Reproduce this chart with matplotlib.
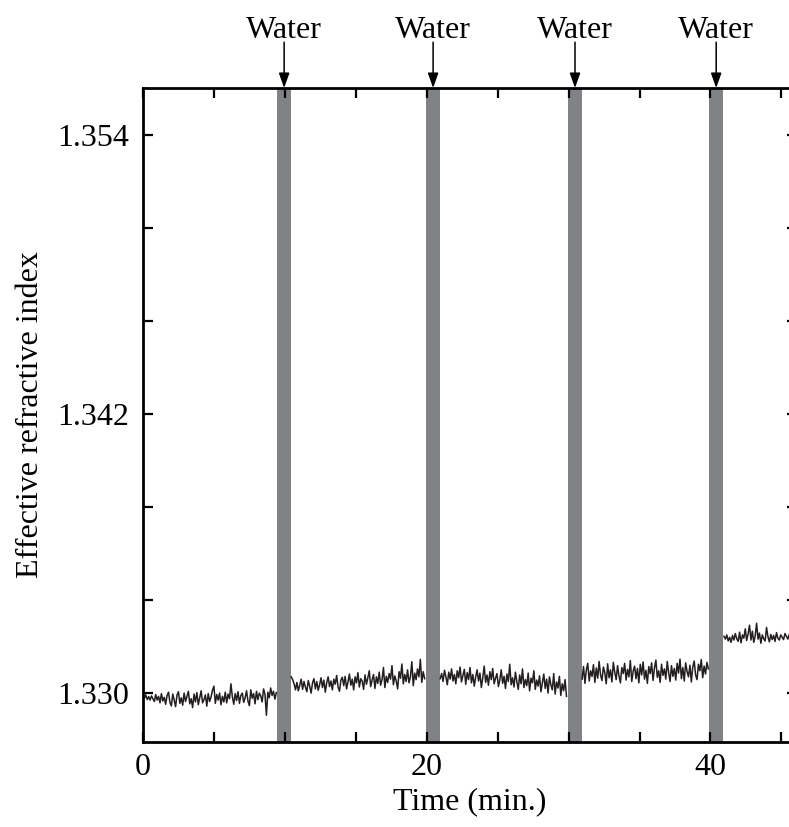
import numpy as np
import matplotlib
matplotlib.use("Agg")
import matplotlib.pyplot as plt
from matplotlib.ticker import FormatStrFormatter

plt.rcParams["font.family"] = ["Liberation Serif", "DejaVu Serif"]

# temps de début de chaque segment (min.) et pas d'échantillonnage
seg_starts = [0.0, 10.45, 20.95, 30.95, 40.95]
step = 0.1

# écart à 1.330 en unités de 1e-5
seg1 = [-10, -22, -8, -28, -15, -30, -12, -24, -36, -6,
        -30, -14, -42, -2, -34, -18, -48, -10, 4, -40,
        -55, -4, -30, -58, -8, 6, -44, -20, -52, 0,
        -36, -14, 8, -46, -24, -62, -4, -38, 2, -50,
        -20, 10, -42, -28, -8, -56, -2, -36, -16, 12,
        30, -44, -6, -30, 0, -50, -14, -38, 4, -42,
        -4, -24, 40, -16, -48, -2, -32, 6, -44, -10,
        0, -40, -20, 10, -34, -54, 14, -22, -2, -46,
        8, -28, 0, -12, -38, 18, -6, -95, 4, -20,
        22, -10, 8, -26, 2]
seg2 = [70, 58, 40, 14, 46, 10, 34, 60, 16, 50,
        26, 6, 54, 30, 0, 44, 62, 18, 50, 12,
        36, 66, 24, 56, 4, 44, 70, 28, 52, 14,
        60, 38, 76, 26, 8, 56, 68, 32, 72, 18,
        48, 82, 34, 60, 14, 70, 44, 88, 26, 62,
        52, 16, 78, 38, 66, 96, 28, 56, 80, 20,
        70, 42, 90, 34, 58, 110, 24, 72, 46, 84,
        60, 118, 36, 74, 52, 18, 92, 64, 125, 40,
        80, 50, 100, 44, 70, 135, 32, 86, 58, 104,
        70, 145, 46, 92, 62]
seg3 = [62, 84, 50, 98, 70, 36, 90, 60, 104, 52,
        80, 40, 96, 66, 112, 48, 76, 102, 38, 88,
        58, 110, 44, 80, 30, 70, 100, 52, 86, 24,
        66, 116, 46, 78, 34, 92, 58, 106, 40, 64,
        84, 28, 56, 100, 42, 72, 20, 82, 50, 124,
        36, 66, 26, 90, 50, 16, 78, 40, 104, 24,
        58, 32, 86, 10, 64, 44, 96, 16, 56, 30,
        74, 6, 44, 82, 20, 60, 0, 70, 36, 14,
        84, -4, 48, 22, 72, -10, 40, 10, 58, -14]
seg4 = [60, 114, 42, 100, 128, 52, 96, 72, 122, 46,
        108, 64, 136, 78, 54, 112, 88, 40, 126, 66,
        100, 48, 132, 90, 58, 118, 74, 44, 110, 84,
        128, 56, 102, 70, 140, 50, 94, 116, 62, 106,
        44, 124, 78, 134, 60, 98, 42, 114, 84, 130,
        54, 108, 142, 68, 96, 46, 124, 76, 104, 60,
        136, 88, 50, 118, 72, 106, 56, 128, 86, 146,
        62, 110, 52, 130, 92, 70, 120, 48, 112, 138,
        78, 58, 124, 96, 144, 66, 116, 82, 132, 104]
seg5 = [244, 232, 250, 224, 240, 218, 248, 228, 256, 234,
        222, 262, 216, 250, 236, 276, 226, 254, 292, 228,
        266, 218, 246, 300, 232, 258, 214, 250, 234, 224,
        282, 242, 220, 252, 230, 248, 222, 260, 236, 228,
        250, 240, 230, 256, 244, 232, 252]
segments = [seg1, seg2, seg3, seg4, seg5]

# injections d'eau (min.)
water_start = [9.45, 19.95, 29.95, 39.9]
water_end = [10.45, 20.95, 30.95, 40.9]
water_label = "Water"

y_major = [1.330, 1.342, 1.354]
y_minor = [1.334, 1.338, 1.346, 1.350]
x_major = [0, 20, 40]
x_minor = [5, 10, 15, 25, 30, 35, 45]

fig = plt.figure(figsize=(7.89, 8.27), dpi=100)
ax = fig.add_axes([0.1812, 0.1028, 0.829, 0.7908])

for a, b in zip(water_start, water_end):
    ax.axvspan(a, b, color="#808285", lw=0, zorder=1)

for t0, seg in zip(seg_starts, segments):
    t = t0 + step * np.arange(len(seg))
    n = 1.330 + np.array(seg) * 1e-5
    ax.plot(t, n, color="#231f20", lw=1.1, zorder=2)

for a, b in zip(water_start, water_end):
    c = (a + b) / 2
    ax.annotate("", xy=(c, 1.0), xycoords=("data", "axes fraction"),
                xytext=(c, 1.07), textcoords=("data", "axes fraction"),
                arrowprops=dict(arrowstyle="-|>,head_length=0.45,head_width=0.16",
                                mutation_scale=20, color="black", lw=1.1,
                                shrinkA=0, shrinkB=0))
    ax.text(c, 1.077, water_label, transform=ax.get_xaxis_transform(),
            ha="center", va="baseline", fontsize=23)

ax.set_xlim(0, 46.1)
ax.set_ylim(1.3279, 1.3560)
ax.set_xticks(x_major)
ax.set_xticks(x_minor, minor=True)
ax.set_yticks(y_major)
ax.set_yticks(y_minor, minor=True)
ax.yaxis.set_major_formatter(FormatStrFormatter("%.3f"))

ax.tick_params(which="both", direction="in", top=True, right=True,
               length=7.5, width=1.6, labelsize=23)
ax.tick_params(axis="y", pad=10)
ax.tick_params(axis="x", pad=8)
for s in ax.spines.values():
    s.set_linewidth(2)

ax.set_xlabel("Time (min.)", fontsize=23, labelpad=4)
ax.set_ylabel("Effective refractive index", fontsize=23, labelpad=9)

fig.savefig("out.png", dpi=100)
